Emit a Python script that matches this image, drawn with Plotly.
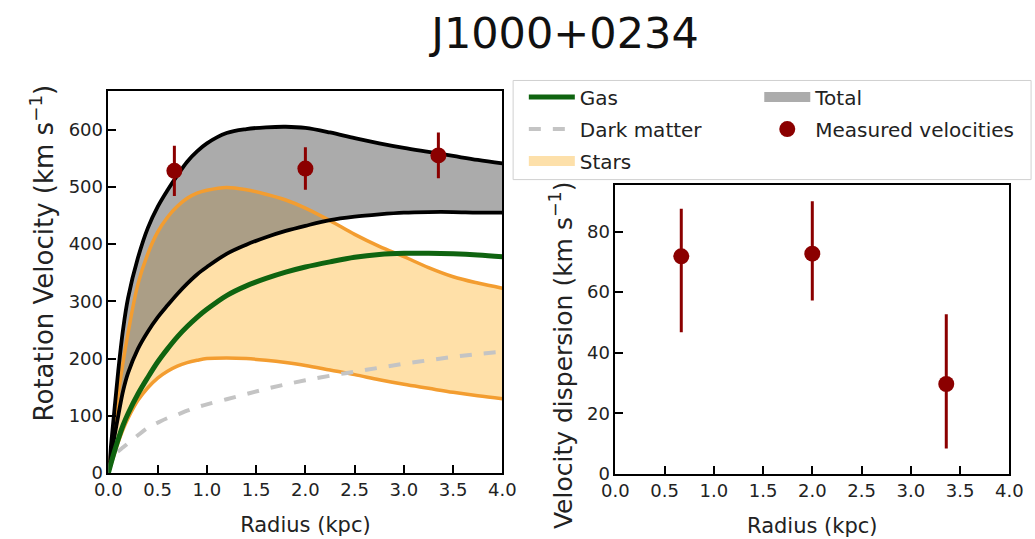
import plotly.graph_objects as go

# Model radii (kpc)
radius = [0, 0.05, 0.1, 0.15, 0.2, 0.3, 0.4, 0.5, 0.6, 0.7, 0.8, 0.9, 1.0, 1.2, 1.4,
          1.6, 1.8, 2.0, 2.25, 2.5, 2.75, 3.0, 3.25, 3.5, 3.75, 4.0]

# Rotation-curve components (km/s)
total_hi = [0, 90, 178, 252, 306, 376, 428, 465, 494, 520, 544, 562, 576, 594, 601,
            604, 605, 603, 595, 585, 576, 568, 561, 554, 547, 541]
total_lo = [0, 53, 100, 144, 175, 217, 247, 272, 293, 313, 331, 347, 360, 383, 399,
            412, 423, 432, 442, 448, 452, 455, 456, 456, 455, 455]
stars_hi = [0, 72, 138, 195, 245, 330, 383, 421, 447, 466, 480, 489, 494, 499, 495,
            487, 477, 463, 441, 417, 396, 378, 359, 343, 332, 323]
stars_lo = [0, 28, 54, 77, 96, 127, 149, 166, 178, 187, 193, 197, 200, 201, 200,
            197, 193, 188, 180, 172, 163, 155, 148, 141, 135, 130]
gas = [0, 31, 59, 84, 104, 138, 167, 194, 217, 238, 256, 272, 286, 310, 327,
       340, 351, 360, 369, 377, 382, 384, 384, 383, 381, 378]
dark_matter = [0, 30, 38, 45, 52, 66, 79, 88, 96, 102, 109, 115, 120, 129, 138,
               147, 155, 162, 170, 177, 184, 191, 197, 203, 208, 212]

# Measured rotation velocities
obs_r = [0.67, 2.0, 3.35]
obs_v = [528, 532, 555]
obs_v_err = [44, 37, 40]

# Measured velocity dispersions
disp_r = [0.67, 2.0, 3.36]
disp = [71.8, 72.7, 29.7]
disp_err_up = [15.7, 17.3, 23.0]
disp_err_down = [25.0, 15.5, 21.3]

FONT = "DejaVu Sans"
ORANGE = "rgb(243,157,48)"
RED = "#8b0000"
STARS_FILL = "rgba(255,165,0,0.34)"
TOTAL_FILL = "rgba(110,110,110,0.58)"

fig = go.Figure()

# Stellar band
fig.add_trace(go.Scatter(x=radius, y=stars_lo, mode="lines", line=dict(width=0, shape="spline"),
                         showlegend=False, hoverinfo="skip", xaxis="x", yaxis="y"))
fig.add_trace(go.Scatter(x=radius, y=stars_hi, mode="lines", line=dict(width=0, shape="spline"),
                         fill="tonexty", fillcolor=STARS_FILL, showlegend=False,
                         xaxis="x", yaxis="y"))
# Total band
fig.add_trace(go.Scatter(x=radius, y=total_lo, mode="lines", line=dict(width=0, shape="spline"),
                         showlegend=False, hoverinfo="skip", xaxis="x", yaxis="y"))
fig.add_trace(go.Scatter(x=radius, y=total_hi, mode="lines", line=dict(width=0, shape="spline"),
                         fill="tonexty", fillcolor=TOTAL_FILL, showlegend=False,
                         xaxis="x", yaxis="y"))

# Band edges
for ys, col, w in [(stars_lo, ORANGE, 3.5), (stars_hi, ORANGE, 3.5),
                   (total_lo, "black", 3.8), (total_hi, "black", 3.8)]:
    fig.add_trace(go.Scatter(x=radius, y=ys, mode="lines", line=dict(color=col, width=w, shape="spline"),
                             showlegend=False, hoverinfo="skip", xaxis="x", yaxis="y"))

fig.add_trace(go.Scatter(x=radius, y=dark_matter, mode="lines", name="Dark matter",
                         line=dict(color="#c4c4c4", width=4, dash="dash", shape="spline"),
                         legend="legend", legendgroup="dm", legendrank=2, xaxis="x", yaxis="y"))
fig.add_trace(go.Scatter(x=radius, y=gas, mode="lines", name="Gas",
                         line=dict(color="#0f6410", width=5, shape="spline"),
                         legend="legend", legendgroup="gas", legendrank=1, xaxis="x", yaxis="y"))

# Legend patches for the two shaded bands
fig.add_trace(go.Scatter(x=[None], y=[None], mode="lines", name="Stars",
                         line=dict(color="#fde0aa", width=15),
                         legend="legend", legendgroup="stars", legendrank=3, xaxis="x", yaxis="y"))
fig.add_trace(go.Scatter(x=[None], y=[None], mode="lines", name="Total",
                         line=dict(color="#acacac", width=15),
                         legend="legend2", legendgroup="total", legendrank=1, xaxis="x", yaxis="y"))

fig.add_trace(go.Scatter(x=obs_r, y=obs_v, mode="markers", name="Measured velocities",
                         marker=dict(color=RED, size=16, symbol="circle"),
                         error_y=dict(type="data", array=obs_v_err, color=RED, thickness=3, width=0),
                         legend="legend2", legendgroup="obs", legendrank=2, xaxis="x", yaxis="y"))

fig.add_trace(go.Scatter(x=disp_r, y=disp, mode="markers", showlegend=False,
                         marker=dict(color=RED, size=16, symbol="circle"),
                         error_y=dict(type="data", symmetric=False, array=disp_err_up,
                                      arrayminus=disp_err_down, color=RED, thickness=3, width=0),
                         xaxis="x2", yaxis="y2"))

W, H = 1035, 539

axis_common = dict(showline=True, linecolor="black", linewidth=1.5, mirror=True,
                   ticks="inside", ticklen=8, tickwidth=1.5, tickcolor="black",
                   showgrid=False, zeroline=False,
                   tickfont=dict(family=FONT, size=18, color="#222"))
x_ticks = [0, 0.5, 1, 1.5, 2, 2.5, 3, 3.5, 4]

fig.update_layout(
    width=W, height=H,
    margin=dict(l=0, r=0, t=0, b=0),
    paper_bgcolor="white", plot_bgcolor="white",
    font=dict(family=FONT, color="#222"),
    title=dict(text="J1000+0234", x=565 / W, xanchor="center", y=1 - 33 / H, yanchor="middle",
               yref="container", font=dict(family=FONT, size=43, color="#111")),
    xaxis=dict(domain=[97 / W, 502 / W], range=[0, 4], tickvals=x_ticks,
               tickformat=".1f", anchor="y",
               title=dict(text="Radius (kpc)", font=dict(family=FONT, size=21), standoff=18),
               **axis_common),
    yaxis=dict(domain=[1 - 482 / H, 1 - 93 / H], range=[0, 667], dtick=100, anchor="x",
               **axis_common),
    xaxis2=dict(domain=[618 / W, 1023 / W], range=[0, 4], tickvals=x_ticks,
                tickformat=".1f", anchor="y2",
                title=dict(text="Radius (kpc)", font=dict(family=FONT, size=21), standoff=18),
                **axis_common),
    yaxis2=dict(domain=[1 - 483 / H, 1 - 188 / H], range=[0, 95.5], dtick=20, anchor="x2",
                **axis_common),
    legend=dict(x=524 / W, xanchor="left", y=1 - 79 / H, yanchor="top", bgcolor="rgba(0,0,0,0)",
                borderwidth=0, font=dict(family=FONT, size=20, color="#222"),
                itemwidth=46, tracegroupgap=3, traceorder="grouped"),
    legend2=dict(x=766 / W, xanchor="left", y=1 - 79 / H, yanchor="top", bgcolor="rgba(0,0,0,0)",
                 borderwidth=0, font=dict(family=FONT, size=20, color="#222"),
                 itemwidth=46, tracegroupgap=3, traceorder="grouped"),
    shapes=[dict(type="rect", xref="paper", yref="paper", x0=513 / W, x1=1.01,
                 y0=1 - 183 / H, y1=1 - 82 / H, line=dict(color="#d0d0d0", width=1),
                 fillcolor="rgba(255,255,255,0.8)", layer="below")],
    annotations=[
        dict(text="Rotation Velocity (km s<sup>−1</sup>)", textangle=-90, xref="paper", yref="paper",
             x=29 / W, y=1 - 258 / H, xanchor="center", yanchor="middle", showarrow=False,
             font=dict(family=FONT, size=26, color="#222")),
        dict(text="Velocity dispersion (km s<sup>−1</sup>)", textangle=-90, xref="paper", yref="paper",
             x=563 / W, y=1 - 362 / H, xanchor="center", yanchor="middle", showarrow=False,
             font=dict(family=FONT, size=25, color="#222")),
    ],
)

fig.write_html("out.html")
